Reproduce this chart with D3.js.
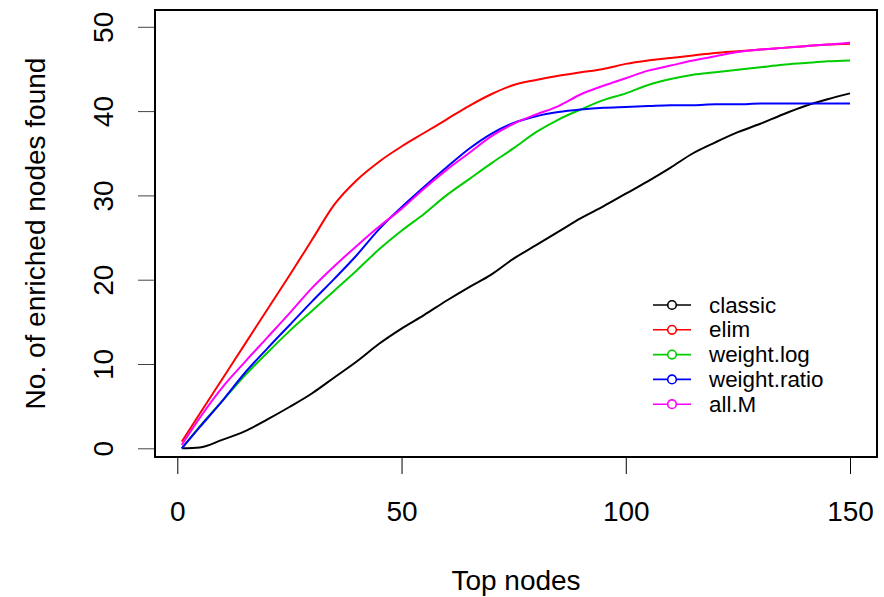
<!DOCTYPE html>
<html>
<head>
<meta charset="utf-8">
<script src="https://cdn.jsdelivr.net/npm/d3@7"></script>
<style>
  body { margin: 0; background: #fff; }
  svg { display: block; font-family: "Liberation Sans", Arial, sans-serif; }
</style>
</head>
<body>
<svg id="chart" width="884" height="597"></svg>
<script>
const topNodes = [1, 5, 10, 15, 20, 25, 30, 35, 40, 45, 50, 55, 60, 65, 70, 75, 80, 85, 90, 95, 100, 105, 110, 115, 120, 125, 130, 135, 140, 145, 150];
const classic = [0.0, 0.1, 1.0, 2.0, 3.4, 4.9, 6.5, 8.4, 10.3, 12.4, 14.2, 15.8, 17.5, 19.1, 20.6, 22.5, 24.1, 25.7, 27.3, 28.7, 30.2, 31.7, 33.3, 35.0, 36.3, 37.5, 38.5, 39.6, 40.6, 41.4, 42.1];
const elim = [0.8, 4.1, 8.2, 12.3, 16.4, 20.5, 24.7, 28.9, 31.8, 34.0, 35.8, 37.4, 39.0, 40.6, 42.0, 43.1, 43.7, 44.2, 44.6, 45.0, 45.6, 46.0, 46.3, 46.6, 46.9, 47.1, 47.3, 47.5, 47.7, 47.9, 48.0];
const weightLog = [0.0, 2.6, 5.6, 8.6, 11.3, 13.9, 16.3, 18.7, 21.1, 23.6, 25.8, 27.8, 30.0, 31.9, 33.8, 35.6, 37.5, 39.0, 40.2, 41.3, 42.1, 43.1, 43.8, 44.3, 44.6, 44.9, 45.2, 45.5, 45.7, 45.9, 46.0];
const weightRatio = [0.0, 2.5, 5.6, 8.9, 11.8, 14.6, 17.4, 20.1, 22.9, 26.0, 28.6, 31.0, 33.3, 35.5, 37.3, 38.6, 39.4, 39.9, 40.2, 40.4, 40.5, 40.6, 40.7, 40.7, 40.8, 40.8, 40.9, 40.9, 40.9, 40.9, 40.9];
const allM = [0.4, 3.6, 7.2, 10.2, 13.1, 16.0, 19.0, 21.6, 24.0, 26.3, 28.4, 30.8, 33.0, 35.0, 37.0, 38.5, 39.6, 40.6, 42.0, 43.0, 43.9, 44.8, 45.4, 46.0, 46.5, 47.0, 47.3, 47.5, 47.7, 47.9, 48.1];

const seriesNames = ["classic", "elim", "weight.log", "weight.ratio", "all.M"];
const seriesColors = ["#000000", "#FF0000", "#00CD00", "#0000FF", "#FF00FF"];
const xTicks = [0, 50, 100, 150];
const yTicks = [0, 10, 20, 30, 40, 50];

const series = [classic, elim, weightLog, weightRatio, allM].map((vals, i) => ({
    name: seriesNames[i],
    color: seriesColors[i],
    points: vals.map((v, j) => [topNodes[j], v])
}));

const box = { left: 155, right: 877, top: 10, bottom: 457 };

const svg = d3.select("#chart");

const x = d3.scaleLinear().domain([0, 150]).range([177.3, 850]);
const y = d3.scaleLinear().domain([0, 50]).range([448.3, 26.8]);

// lines
const line = d3.line()
    .x(d => x(d[0]))
    .y(d => y(d[1]))
    .curve(d3.curveMonotoneX);
svg.append("g")
    .selectAll("path")
    .data(series)
    .join("path")
    .attr("fill", "none")
    .attr("stroke", d => d.color)
    .attr("stroke-width", 2)
    .attr("stroke-linejoin", "round")
    .attr("d", d => line(d.points));

// plot box
svg.append("rect")
    .attr("x", box.left)
    .attr("y", box.top)
    .attr("width", box.right - box.left)
    .attr("height", box.bottom - box.top)
    .attr("fill", "none")
    .attr("stroke", "#000")
    .attr("stroke-width", 2);

// axes
const xAxis = svg.append("g")
    .attr("transform", `translate(0, ${box.bottom + 1})`)
    .call(d3.axisBottom(x).tickValues(xTicks).tickSize(16).tickPadding(27).tickSizeOuter(0));
xAxis.select(".domain").remove();
xAxis.selectAll("text").attr("font-size", 28).attr("fill", "#000")
    .style("font-family", "'Liberation Sans', Arial, sans-serif");

const yAxis = svg.append("g")
    .attr("transform", `translate(${box.left - 1}, 0)`)
    .call(d3.axisLeft(y).tickValues(yTicks).tickSize(16).tickSizeOuter(0));
yAxis.select(".domain").remove();
yAxis.selectAll("text")
    .attr("x", null)
    .attr("dy", null)
    .attr("text-anchor", "middle")
    .attr("dominant-baseline", "central")
    .attr("transform", "translate(-51, 0) rotate(-90)")
    .attr("font-size", 28)
    .attr("fill", "#000")
    .style("font-family", "'Liberation Sans', Arial, sans-serif");
yAxis.selectAll("line").attr("stroke", "#444");

// axis titles
svg.append("text")
    .attr("x", (box.left + box.right) / 2)
    .attr("y", 580)
    .attr("text-anchor", "middle")
    .attr("dominant-baseline", "central")
    .attr("font-size", 28)
    .text("Top nodes");

svg.append("text")
    .attr("transform", `translate(35, ${(box.top + box.bottom) / 2}) rotate(-90)`)
    .attr("text-anchor", "middle")
    .attr("dominant-baseline", "central")
    .attr("font-size", 28)
    .text("No. of enriched nodes found");

// legend
const legend = svg.append("g").attr("transform", "translate(653, 305)");
const item = legend.selectAll("g")
    .data(series)
    .join("g")
    .attr("transform", (d, i) => `translate(0, ${i * 24.8})`);
item.append("line")
    .attr("x1", 0).attr("x2", 38)
    .attr("stroke", d => d.color)
    .attr("stroke-width", 1.6);
item.append("circle")
    .attr("cx", 19).attr("r", 4.3)
    .attr("fill", "#fff")
    .attr("stroke", d => d.color)
    .attr("stroke-width", 1.6);
item.append("text")
    .attr("x", 56)
    .attr("dominant-baseline", "central")
    .attr("font-size", 22.4)
    .text(d => d.name);
</script>
</body>
</html>
